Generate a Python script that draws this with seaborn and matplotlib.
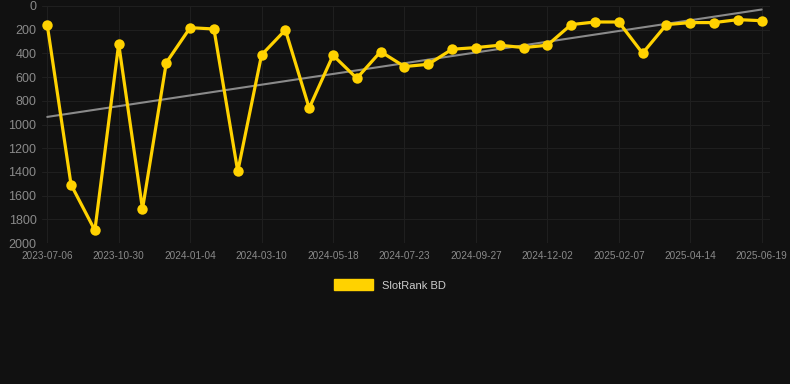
import numpy as np
import pandas as pd
import matplotlib
matplotlib.use("Agg")
import matplotlib.pyplot as plt
import matplotlib.patches as mpatches
import seaborn as sns

# rank values, one per sample (31 samples)
ranks = [160, 1508, 1893, 320, 1713, 478, 183, 194, 1396, 413,
         202, 862, 416, 610, 385, 511, 492, 365, 351, 331,
         351, 331, 157, 135, 135, 399, 157, 140, 140, 115, 124]
tick_labels = ["2023-07-06", "2023-10-30", "2024-01-04", "2024-03-10",
               "2024-05-18", "2024-07-23", "2024-09-27", "2024-12-02",
               "2025-02-07", "2025-04-14", "2025-06-19"]
series_name = "SlotRank BD"

df = pd.DataFrame({"idx": np.arange(len(ranks)), "rank": ranks})

bg = "#111111"
gold = "#FFD200"

sns.set_style("dark")
plt.rcParams['font.family'] = ['Liberation Sans', 'DejaVu Sans']

fig = plt.figure(figsize=(7.9, 3.84), dpi=100, facecolor=bg)
ax = fig.add_axes([42 / 790, 1 - 243 / 384, 728 / 790, 237 / 384])
ax.set_facecolor(bg)

# trend line (least squares fit)
sns.regplot(data=df, x="idx", y="rank", scatter=False, ci=None, ax=ax,
            color="#8a8a8a", line_kws={"linewidth": 1.5, "zorder": 2})

sns.lineplot(data=df, x="idx", y="rank", ax=ax, color=gold, linewidth=2.3,
             marker="o", markersize=7.5, markeredgewidth=0, zorder=3,
             clip_on=False)

ax.set_xlim(-0.22, 30.35)
ax.set_ylim(2000, 0)
ax.set_yticks(np.arange(0, 2001, 200))
ax.set_yticklabels([str(v) for v in range(0, 2001, 200)])
ax.set_xticks(np.arange(0, len(ranks), 3))
ax.set_xticklabels(tick_labels)
ax.tick_params(axis="y", colors="#8a8a8a", labelsize=9, length=0, pad=4)
ax.tick_params(axis="x", colors="#8a8a8a", labelsize=7.2, length=0, pad=6)
ax.grid(True, color="#1f1f1f", linewidth=0.8)
ax.set_xlabel("")
ax.set_ylabel("")
for s in ax.spines.values():
    s.set_visible(False)

handle = mpatches.Patch(color=gold, label=series_name)
fig.legend(handles=[handle], loc="center", bbox_to_anchor=(390 / 790, 1 - 285 / 384),
           frameon=False, fontsize=8, labelcolor="#cccccc",
           handlelength=3.5, handleheight=1.1)

fig.savefig("out.png", dpi=100, facecolor=bg)
